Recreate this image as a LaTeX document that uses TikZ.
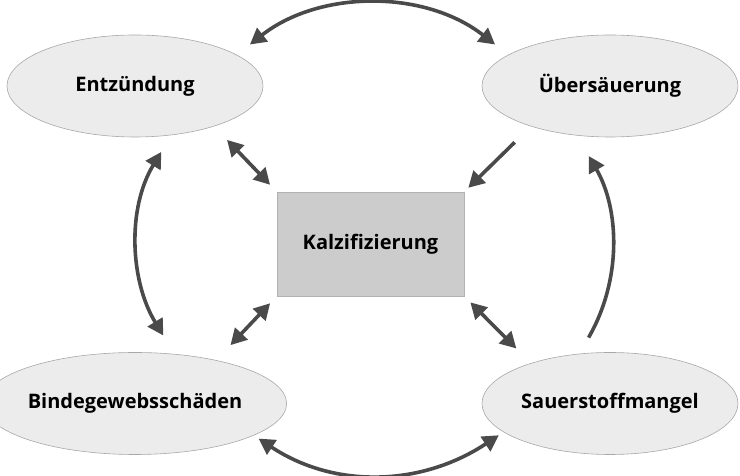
\documentclass[tikz,border=0pt]{standalone}
\usepackage{fontspec}
\setmainfont{Open Sans}
\usetikzlibrary{positioning,shapes.geometric,arrows.meta}

\definecolor{linkgray}{RGB}{74,74,74}
\definecolor{bubblefill}{RGB}{236,236,236}
\definecolor{bubbleline}{RGB}{168,168,168}
\definecolor{corefill}{RGB}{204,204,204}
\definecolor{coreline}{RGB}{178,178,178}

\tikzset{
  bubble/.style={ellipse, draw=bubbleline, fill=bubblefill, line width=0.6pt,
    minimum width=256pt, minimum height=102pt, inner sep=0pt, outer sep=0pt,
    font=\bfseries\fontsize{20}{22}\selectfont},
  core/.style={rectangle, draw=coreline, fill=corefill, line width=0.6pt,
    minimum width=187pt, minimum height=104pt, inner sep=0pt, outer sep=0pt,
    font=\bfseries\fontsize{20}{22}\selectfont},
  link/.style={draw=linkgray, line width=3.6pt},
  both/.style={link, {Triangle[length=16pt,width=17pt]}-{Triangle[length=16pt,width=17pt]}},
  one/.style={link, -{Triangle[length=16pt,width=17pt]}}
}

\begin{document}
\begin{tikzpicture}[x=1pt,y=1pt]
\def\xl{135}
\def\xr{610}
\def\xm{370.5}

\def\yt{390}
\def\ym{232}
\def\yb{72.5}

\useasboundingbox (0,0) rectangle (740,476);

\node[bubble] (ent) at (\xl,\yt) {Entzündung};
\node[bubble] (ueb) at (\xr,\yt) {Übersäuerung};
\node[bubble] (bin) at (\xl,\yb) {Bindegewebsschäden};
\node[bubble] (sau) at (\xr,\yb) {Sauerstoffmangel};
\node[core] (kal) at (\xm,\ym) {Kalzifizierung};

% outer ring
\draw[both, shorten <=17pt, shorten >=17pt] (ent.17) to [out=38, in=142] (ueb.163);
\draw[both, shorten <=6pt, shorten >=6pt] (bin.-15) to [out=-33.5, in=-146.5] (sau.195);
\draw[both, shorten <=20pt, shorten >=22pt] (ent.-53) to [out=238.5, in=121.5] (bin.51);
\draw[one, shorten <=19pt, shorten >=24pt] (sau.122) to [out=60, in=-60] (ueb.236);

% into the centre
\draw[both, shorten <=19pt, shorten >=10pt] (ent.-27) -- (kal.north west);
\draw[one, shorten <=23pt, shorten >=6pt] (ueb.207) -- (kal.north east);
\draw[both, shorten <=21pt, shorten >=10pt] (bin.28) -- (kal.south west);
\draw[both, shorten <=21pt, shorten >=9pt] (sau.153) -- (kal.south east);

\end{tikzpicture}
\end{document}
